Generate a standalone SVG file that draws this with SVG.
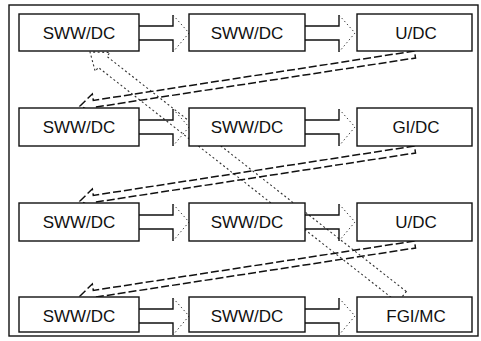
<svg xmlns="http://www.w3.org/2000/svg" width="481" height="341" viewBox="0 0 481 341">
  <style>
    .frame { fill: none; stroke: #111; stroke-width: 1.4; }
    .box rect { fill: #fff; stroke: #111; stroke-width: 1.4; }
    .box text { font-family: "Liberation Sans", Arial, sans-serif; font-size: 17px; fill: #111; text-anchor: middle; }
    .shaft { fill: none; stroke: #111; stroke-width: 1.4; }
    .head { fill: none; stroke: #444; stroke-width: 1; stroke-dasharray: 1.5 2.5; }
    .flow { fill: none; stroke: #111; stroke-width: 1.5; stroke-dasharray: 8 3; }
    .back { fill: none; stroke: #333; stroke-width: 1.1; stroke-dasharray: 2 2.5; }
  </style>
  <defs>
    <!-- hollow block arrow between neighbouring boxes: tail at x=0, head base at x=34, tip at x=50 -->
    <g id="link">
      <path class="shaft" d="M0,12 H34 V1 M0,26 H34 V38"/>
      <path class="head" d="M34,1 L50,19 L34,38"/>
    </g>
    <!-- long hollow arrow from the end of one row to the start of the next -->
    <path id="wrap" class="flow" d="M414.5,51 L93.3,100.4 L92.3,94 L80,106 L95.3,113.8 L94.3,107.3 L415.5,58 Z"/>
  </defs>

  <rect class="frame" x="9" y="5" width="469" height="331"/>

  <g id="connectors">
    <!-- return path from the last stage back to the first -->
    <path class="back" d="M406.3,291.5 L106.9,56.4 L110,52.5 L90,52 L95.2,71.3 L98.3,67.4 L397.7,302.5 Z"/>
    <use href="#wrap"/>
    <use href="#wrap" y="95"/>
    <use href="#wrap" y="190"/>
    <use href="#link" x="139" y="14"/>
    <use href="#link" x="305" y="14"/>
    <use href="#link" x="139" y="108"/>
    <use href="#link" x="305" y="108"/>
    <use href="#link" x="139" y="203"/>
    <use href="#link" x="305" y="203"/>
    <use href="#link" x="139" y="297"/>
    <use href="#link" x="305" y="297"/>
  </g>

  <g id="r1c1" class="box"><rect x="19" y="14" width="120" height="37"/><text x="79" y="38.5">SWW/DC</text></g>
  <g id="r1c2" class="box"><rect x="189" y="14" width="116" height="37"/><text x="247" y="38.5">SWW/DC</text></g>
  <g id="r1c3" class="box"><rect x="357" y="14" width="115" height="37"/><text x="416" y="38.5">U/DC</text></g>

  <g id="r2c1" class="box"><rect x="19" y="108" width="120" height="38"/><text x="79" y="133">SWW/DC</text></g>
  <g id="r2c2" class="box"><rect x="189" y="108" width="116" height="38"/><text x="247" y="133">SWW/DC</text></g>
  <g id="r2c3" class="box"><rect x="357" y="108" width="115" height="38"/><text x="416" y="133">GI/DC</text></g>

  <g id="r3c1" class="box"><rect x="19" y="203" width="120" height="38"/><text x="79" y="228">SWW/DC</text></g>
  <g id="r3c2" class="box"><rect x="189" y="203" width="116" height="38"/><text x="247" y="228">SWW/DC</text></g>
  <g id="r3c3" class="box"><rect x="357" y="203" width="115" height="38"/><text x="416" y="228">U/DC</text></g>

  <g id="r4c1" class="box"><rect x="19" y="297" width="120" height="35"/><text x="79" y="322">SWW/DC</text></g>
  <g id="r4c2" class="box"><rect x="189" y="297" width="116" height="35"/><text x="247" y="322">SWW/DC</text></g>
  <g id="r4c3" class="box"><rect x="357" y="297" width="115" height="35"/><text x="416" y="322">FGI/MC</text></g>
</svg>
